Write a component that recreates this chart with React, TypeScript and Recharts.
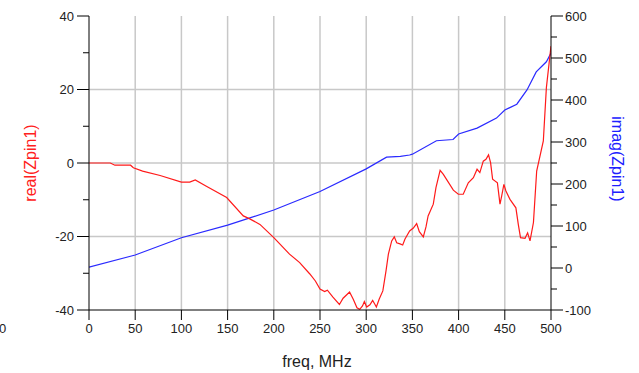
import { LineChart, Line, XAxis, YAxis, CartesianGrid } from 'recharts';

// real(Zpin1), freq in MHz
const realFreq = [
    0, 23, 28, 45, 48, 58, 77, 100, 109, 115, 127, 149, 167, 174, 185, 200, 217, 228, 239, 245,
    250, 255, 258, 264, 271, 275, 282, 286, 290, 293, 296, 298, 300.5, 304, 307, 309.5, 311, 314,
    318, 321.4, 324, 327.6, 330.4, 333, 336.6, 339.5, 342, 347, 351, 354.6, 357.5, 361.8, 364.7,
    367, 372.6, 375.5, 380, 383.5, 394.3, 399.7, 405, 410.5, 416, 420, 423, 426.7, 429.6, 432.4,
    434.6, 436.8, 442, 444.8, 446.6, 449, 451.2, 455.6, 462, 464.6, 467, 471.9, 474.7, 477.3, 481,
    484.5, 491.7, 495, 500
];
const realValues = [
    0, 0, -0.6, -0.6, -1.3, -2.2, -3.4, -5.2, -5.2, -4.6, -6.3, -9.4, -14.4, -15.2, -16.7, -20.3,
    -24.8, -27.1, -30.2, -32.1, -34.3, -35, -34.6, -36.5, -38.5, -36.8, -35.1, -37.1, -39.4, -39.8,
    -38.9, -37.7, -39.2, -38.6, -37.4, -38.5, -39.2, -37.1, -34.8, -29.4, -24.8, -21.2, -20.1,
    -21.7, -22, -22.3, -20.7, -18.5, -17.7, -16.5, -18.7, -20.1, -17.4, -14.4, -11.2, -6.7, -2.0,
    -3.1, -7.4, -8.5, -8.5, -5.4, -4.0, -1.7, -2.6, 0.5, 1.0, 2.2, 0.1, -4.4, -5.4, -11.2, -9,
    -5.8, -7.6, -9.9, -12.2, -16.7, -20.3, -20.5, -19, -21.2, -16.2, -2.2, 6, 20.5, 31.8
];

// imag(Zpin1)
const imagFreq = [0, 50, 100, 150, 175, 200, 250, 300, 322, 337, 347, 350, 376, 394, 400, 420, 441, 450, 463, 474, 484, 495, 500];
const imagValues = [2, 31, 72, 102, 120, 138, 182, 236, 264, 266, 269, 271, 303, 306, 319, 333, 357, 376, 390, 424, 467, 491, 512];

const freqTicks = [0, 50, 100, 150, 200, 250, 300, 350, 400, 450, 500];
const realTicks = [-40, -30, -20, -10, 0, 10, 20, 30, 40];
const imagTicks = [-100, -50, 0, 50, 100, 150, 200, 250, 300, 350, 400, 450, 500, 550, 600];

const realData = realFreq.map((f, i) => ({ freq: f, real: realValues[i] }));
const imagData = imagFreq.map((f, i) => ({ freq: f, imag: imagValues[i] }));

const font = '"Liberation Sans", Arial, sans-serif';
const tickColor = '#222';

const LeftTick = (props: any) => {
    const { x, y, payload } = props;
    const major = payload.value % 20 === 0;
    return (
        <g>
            <line x1={x} x2={x - (major ? 12 : 6)} y1={y} y2={y} stroke="#000" />
            {major && (
                <text x={x - 15} y={y} dy={4.5} textAnchor="end" fontSize={13} fontFamily={font} fill={tickColor}>
                    {payload.value}
                </text>
            )}
        </g>
    );
};

const RightTick = (props: any) => {
    const { x, y, payload } = props;
    const major = payload.value % 100 === 0;
    return (
        <g>
            <line x1={x} x2={x + (major ? 12 : 6)} y1={y} y2={y} stroke="#000" />
            {major && (
                <text x={x + 14} y={y} dy={4.5} textAnchor="start" fontSize={13} fontFamily={font} fill={tickColor}>
                    {payload.value}
                </text>
            )}
        </g>
    );
};

const BottomTick = (props: any) => {
    const { x, y, payload } = props;
    return (
        <g>
            <line x1={x} x2={x} y1={y} y2={y + 10} stroke="#000" />
            <text x={x} y={y + 23} textAnchor="middle" fontSize={13} fontFamily={font} fill={tickColor}>
                {payload.value}
            </text>
        </g>
    );
};

export default function App() {
    return (
        <div style={{ position: 'absolute', left: 0, top: 0, width: 639, height: 373, background: '#fff' }}>
            <LineChart width={639} height={373} margin={{ top: 16, right: 0, bottom: 0, left: 0 }}>
                <CartesianGrid
                    stroke="#c8c8c8"
                    strokeWidth={1.5}
                    horizontalValues={[-20, 0, 20]}
                    verticalValues={freqTicks.filter((t) => t > 0 && t < 500)}
                />
                <XAxis
                    dataKey="freq"
                    type="number"
                    domain={[0, 500]}
                    ticks={freqTicks}
                    interval={0}
                    height={63}
                    tickSize={0}
                    tickMargin={0}
                    tickLine={false}
                    axisLine={{ stroke: '#000' }}
                    tick={(p: any) => <BottomTick {...p} />}
                    allowDataOverflow
                />
                <XAxis
                    xAxisId="top"
                    orientation="top"
                    type="number"
                    domain={[0, 500]}
                    height={0}
                    tick={false}
                    tickLine={false}
                    axisLine={{ stroke: '#000' }}
                />
                <YAxis
                    type="number"
                    domain={[-40, 40]}
                    ticks={realTicks}
                    interval={0}
                    width={89}
                    tickSize={0}
                    tickMargin={0}
                    tickLine={false}
                    axisLine={{ stroke: '#000' }}
                    tick={(p: any) => <LeftTick {...p} />}
                    allowDataOverflow
                />
                <YAxis
                    yAxisId="right"
                    orientation="right"
                    type="number"
                    domain={[-100, 600]}
                    ticks={imagTicks}
                    interval={0}
                    width={88}
                    tickSize={0}
                    tickMargin={0}
                    tickLine={false}
                    axisLine={{ stroke: '#000' }}
                    tick={(p: any) => <RightTick {...p} />}
                    allowDataOverflow
                />
                <Line
                    data={imagData}
                    yAxisId="right"
                    dataKey="imag"
                    type="linear"
                    stroke="#2a2aff"
                    strokeWidth={1.2}
                    dot={false}
                    isAnimationActive={false}
                />
                <Line
                    data={realData}
                    dataKey="real"
                    type="linear"
                    stroke="#ff1a1a"
                    strokeWidth={1.2}
                    dot={false}
                    isAnimationActive={false}
                />
            </LineChart>
            <svg
                width={639}
                height={373}
                style={{ position: 'absolute', left: 0, top: 0, pointerEvents: 'none' }}
            >
                <text
                    x={31}
                    y={163}
                    transform="rotate(-90 31 163)"
                    textAnchor="middle"
                    dy={5}
                    fontSize={16}
                    fontFamily={font}
                    fill="#ff2020"
                >
                    real(Zpin1)
                </text>
                <text
                    x={617}
                    y={159}
                    transform="rotate(90 617 159)"
                    textAnchor="middle"
                    dy={5}
                    fontSize={16}
                    fontFamily={font}
                    fill="#2020ff"
                >
                    imag(Zpin1)
                </text>
                <text x={317} y={367} textAnchor="middle" fontSize={16} fontFamily={font} fill={tickColor}>
                    freq, MHz
                </text>
                <text x={-1} y={333} textAnchor="start" fontSize={13} fontFamily={font} fill={tickColor}>
                    0
                </text>
            </svg>
        </div>
    );
}
